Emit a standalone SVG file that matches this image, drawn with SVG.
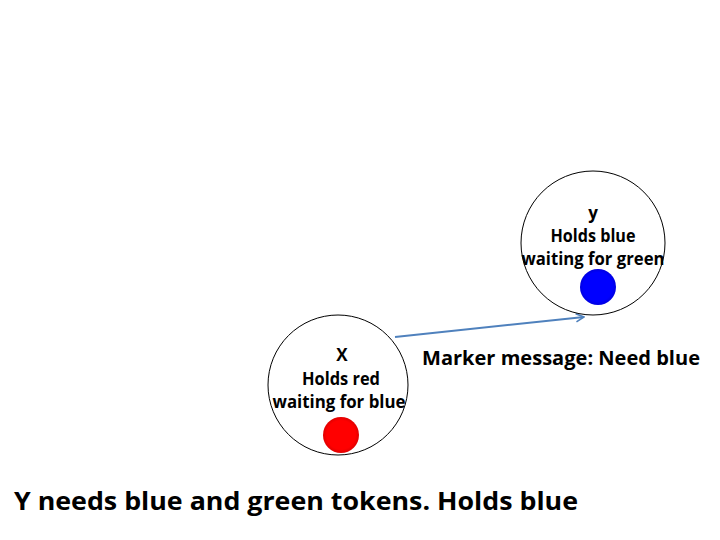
<svg xmlns="http://www.w3.org/2000/svg" width="720" height="540" viewBox="0 0 720 540">
<defs>
<style>
.node{fill:#fff;stroke:#000;stroke-width:1}
.t{font-family:"Open Sans","Liberation Sans",sans-serif;font-weight:bold;fill:#000;text-anchor:middle}
.s{font-size:17px}
.conn{stroke:#4F81BD;stroke-width:2;fill:none}
</style>
<marker id="arr" viewBox="0 0 10 10" refX="9" refY="5" markerWidth="5" markerHeight="5" orient="auto" markerUnits="strokeWidth">
<path d="M1,1 L9,5 L1,9" fill="none" stroke="#4F81BD" stroke-width="1.6"/>
</marker>
<radialGradient id="rg" cx="0.5" cy="0.5" r="0.5">
<stop offset="0.8" stop-color="#FF0000"/><stop offset="1" stop-color="#E00000"/>
</radialGradient>
<radialGradient id="bg" cx="0.5" cy="0.5" r="0.5">
<stop offset="0.8" stop-color="#0000FF"/><stop offset="1" stop-color="#0000E0"/>
</radialGradient>
</defs>
<rect width="720" height="540" fill="#fff"/>
<g id="connectors">
<line class="conn" x1="395" y1="337" x2="584" y2="317" marker-end="url(#arr)"/>
</g>
<g id="nodeX">
<circle class="node" cx="338" cy="385" r="70"/>
<text class="t s" x="342" y="361">X</text>
<text class="t s" x="341" y="385" textLength="78" lengthAdjust="spacingAndGlyphs">Holds red</text>
<text class="t s" x="339" y="408" textLength="133" lengthAdjust="spacingAndGlyphs">waiting for blue</text>
<circle cx="341" cy="435" r="18" fill="url(#rg)"/>
</g>
<g id="nodeY">
<circle class="node" cx="593" cy="243" r="72"/>
<text class="t s" x="593" y="219">y</text>
<text class="t s" x="593" y="242" textLength="85" lengthAdjust="spacingAndGlyphs">Holds blue</text>
<text class="t s" x="593" y="265" textLength="143" lengthAdjust="spacingAndGlyphs">waiting for green</text>
<circle cx="598" cy="287" r="18" fill="url(#bg)"/>
</g>
<text class="t" x="561" y="365" font-size="20" textLength="278" lengthAdjust="spacingAndGlyphs">Marker message: Need blue</text>
<text class="t" x="296" y="510" font-size="25" textLength="564" lengthAdjust="spacingAndGlyphs">Y needs blue and green tokens. Holds blue</text>
</svg>
